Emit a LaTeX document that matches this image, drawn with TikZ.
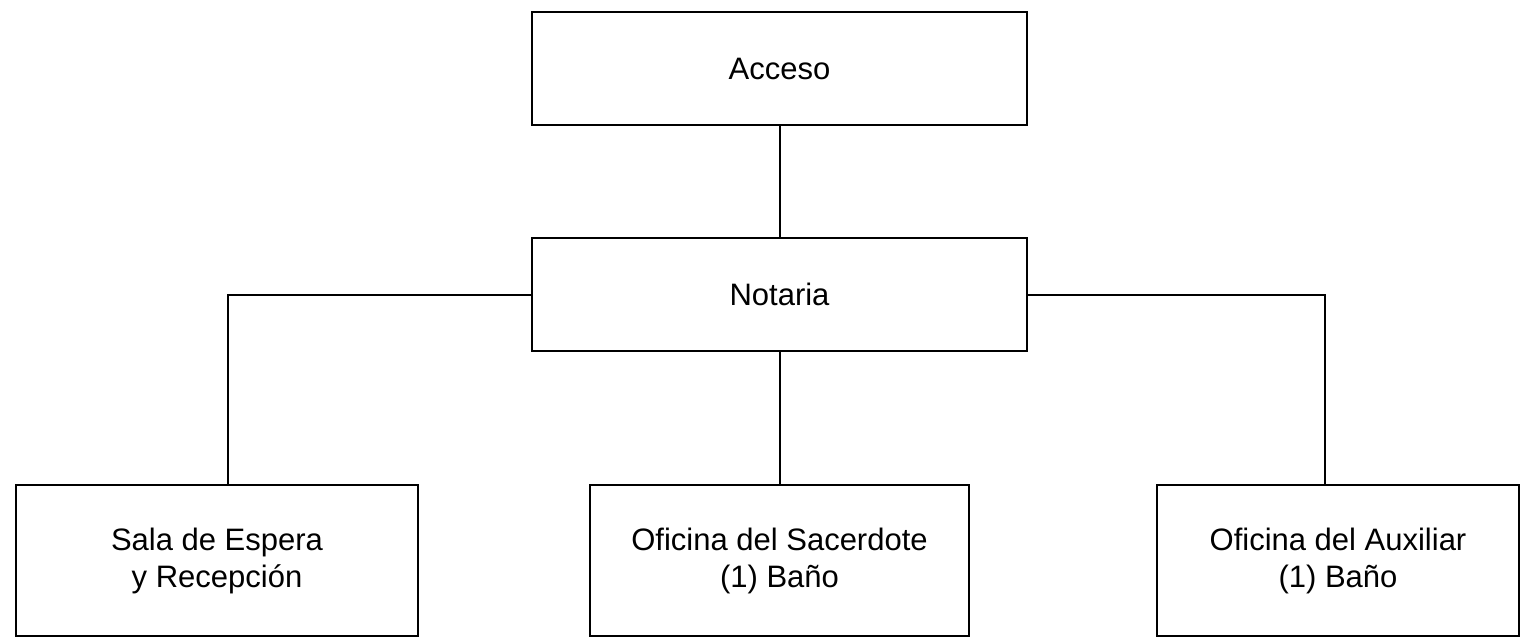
\documentclass[tikz,border=0pt]{standalone}
\usepackage{fontspec}
\setmainfont{Liberation Sans}
\usepackage{tikz}

\begin{document}
\begin{tikzpicture}[x=0.5pt,y=-0.5pt,line width=1pt,
    area/.style={draw,rectangle,inner sep=0pt,align=center,font=\fontsize{15.5}{18.5}\selectfont},
    top/.style={area,minimum width=247.5pt,minimum height=56.5pt},
    room/.style={area,minimum height=75.5pt}]
    \useasboundingbox (0,0) rectangle (1535,637);

    \node[top] (acceso) at (779.5,68.5) {Acceso};
    \node[top] (notaria) at (779.5,294.5) {Notaria};

    \node[room,minimum width=201pt] (sala) at (217,560.5) {Sala de Espera\\y Recepción};
    \node[room,minimum width=189.5pt] (sacerdote) at (779.5,560.5) {Oficina del Sacerdote\\(1) Baño};
    \node[room,minimum width=181pt] (auxiliar) at (1338,560.5) {Oficina del Auxiliar\\(1) Baño};

    \coordinate (salatop) at (228,485);
    \coordinate (auxtop) at (1325,485);

    \draw (acceso) -- (notaria);
    \draw (notaria.west) -| (salatop);
    \draw (notaria) -- (sacerdote);
    \draw (notaria.east) -| (auxtop);
\end{tikzpicture}
\end{document}
